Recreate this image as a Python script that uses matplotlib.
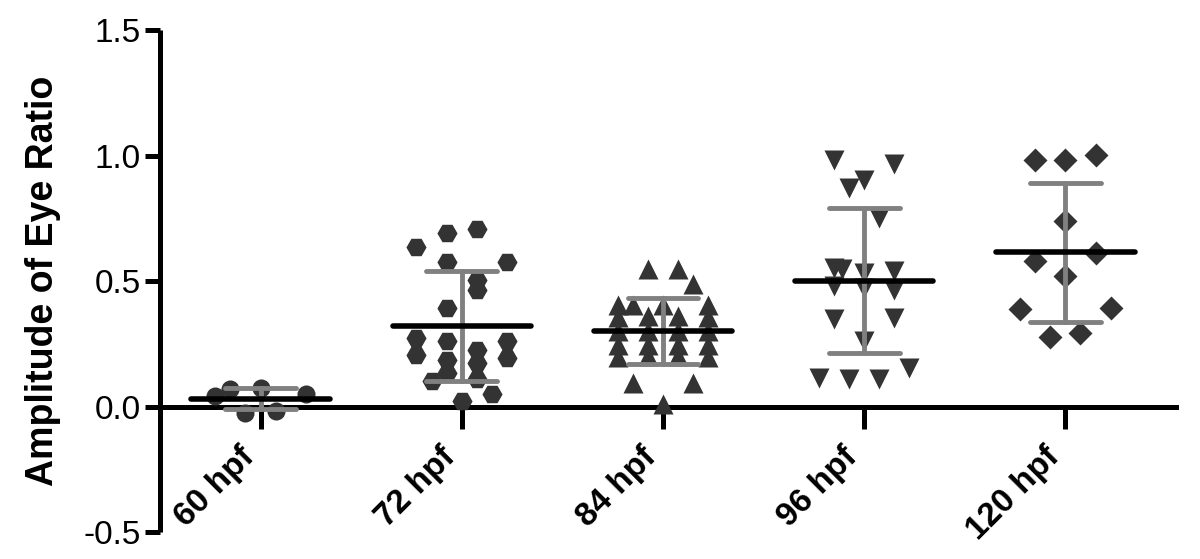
import numpy as np
import matplotlib
matplotlib.use("Agg")
import matplotlib.pyplot as plt

plt.rcParams['font.family'] = ['Liberation Sans', 'DejaVu Sans']

groups = ["60 hpf", "72 hpf", "84 hpf", "96 hpf", "120 hpf"]

vals_60 = [0.041, 0.068, 0.072, 0.048, -0.025, -0.019]
lanes_60 = [-3, -2, 0, 3, -1, 1]

vals_72 = [0.637, 0.274, 0.207,
           0.693, 0.574, 0.394, 0.260, 0.187, 0.134,
           0.709, 0.506, 0.466, 0.227, 0.174, 0.108,
           0.574, 0.260, 0.194,
           0.101, 0.048, 0.021]
lanes_72 = [-3]*3 + [-1]*6 + [1]*6 + [3]*3 + [-2, 2, 0]

vals_84 = [0.406, 0.355, 0.299, 0.247, 0.199,
           0.406, 0.094,
           0.548, 0.360, 0.300, 0.247, 0.200,
           0.406, 0.008,
           0.548, 0.360, 0.300, 0.247, 0.200,
           0.490, 0.094,
           0.406, 0.355, 0.299, 0.247, 0.199]
lanes_84 = [-3]*5 + [-2]*2 + [-1]*5 + [0]*2 + [1]*5 + [2]*2 + [3]*5

vals_96 = [0.981, 0.553, 0.479, 0.347,
           0.546,
           0.871, 0.108,
           0.902, 0.532, 0.473, 0.260,
           0.752, 0.108,
           0.968, 0.539, 0.466, 0.353,
           0.155, 0.115]
lanes_96 = [-2]*4 + [-1.5] + [-1]*2 + [0]*4 + [1]*2 + [2]*4 + [3, -3]

vals_120 = [0.984, 0.579, 0.387, 0.276, 0.981, 0.741, 0.520, 0.293, 1.001, 0.612, 0.393]
lanes_120 = [-2, -2, -3, -1, 0, 0, 0, 1, 2, 2, 3]

all_vals = [vals_60, vals_72, vals_84, vals_96, vals_120]
all_lanes = [lanes_60, lanes_72, lanes_84, lanes_96, lanes_120]
markers = ['o', 'H', '^', 'v', 'D']
msizes = [13, 14.5, 14, 14, 12.5]

lane_w = 0.075
dot_col = '#333333'

fig = plt.figure(figsize=(12, 5.59), dpi=100)
ax = fig.add_axes([0.1333, 0.0483, 0.8467, 0.898])

for i, (v, ln) in enumerate(zip(all_vals, all_lanes)):
    v = np.array(v)
    xs = i + np.array(ln) * lane_w
    ax.plot(xs, v, linestyle='none', marker=markers[i], ms=msizes[i],
            color=dot_col, mec='none', zorder=3, clip_on=False)
    # mean +/- SD
    m = v.mean()
    sd = v.std(ddof=1)
    ax.plot([i, i], [m - sd, m + sd], color='#808080', lw=3.5, zorder=4,
            solid_capstyle='round')
    ax.hlines([m - sd, m + sd], i - 0.176, i + 0.176, color='#808080', lw=3.5,
              zorder=4, capstyle='round')
    ax.hlines(m, i - 0.344, i + 0.344, color='black', lw=4, zorder=5,
              capstyle='round')

ax.set_xlim(-0.5, 4.55)
ax.set_ylim(-0.5, 1.5)
ax.spines['top'].set_visible(False)
ax.spines['right'].set_visible(False)
ax.spines['bottom'].set_position(('data', 0))
for s in ['left', 'bottom']:
    ax.spines[s].set_linewidth(3.6)
ax.spines['left'].set_capstyle('butt')

ax.set_yticks([-0.5, 0.0, 0.5, 1.0, 1.5])
ax.set_yticklabels(['-0.5', '0.0', '0.5', '1.0', '1.5'])
ax.tick_params(axis='y', length=11, width=3.6, labelsize=24, pad=3)
ax.set_xticks(range(len(groups)))
ax.set_xticklabels(groups, rotation=45, ha='right', fontweight='bold')
ax.tick_params(axis='x', length=16, width=3.6, labelsize=24, pad=9)

ax.set_ylabel('Amplitude of Eye Ratio', fontsize=27, fontweight='bold', labelpad=16)

fig.savefig('out.png', dpi=100)
